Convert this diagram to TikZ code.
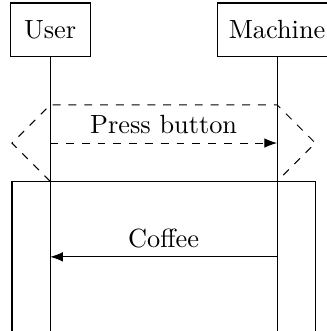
\documentclass[tikz,border=0pt]{standalone}
\usetikzlibrary{positioning, arrows.meta}

\tikzset{
  actor/.style={draw, minimum height=0.72cm, inner sep=3pt},
  msg/.style={-Latex},
  msglabel/.style={above, text depth=0pt}
}

\begin{document}
\begin{tikzpicture}
\useasboundingbox (0,0) rectangle (4.36,-4.42);

% actors
\node[actor, minimum width=1.07cm] (user) at (0.67,-0.40) {User};
\node[actor, minimum width=1.58cm] (machine) at (3.70,-0.40) {Machine};

% lifelines
\coordinate (user end) at (0.67,-4.6);
\coordinate (machine end) at (3.70,-4.6);
\draw (user) -- (user end);
\draw (machine) -- (machine end);

% dashed frame round the first message
\coordinate (opt tl) at (0.67,-1.40);
\coordinate (opt l) at (0.16,-1.91);
\coordinate (opt bl) at (0.67,-2.42);
\coordinate (opt br) at (3.70,-2.42);
\coordinate (opt r) at (4.21,-1.91);
\coordinate (opt tr) at (3.70,-1.40);
\draw[dashed] (opt bl) -- (opt l) -- (opt tl) -- (opt tr) -- (opt r) -- (opt br);

% solid frame round the second message
\coordinate (loop tl) at (0.16,-2.42);
\coordinate (loop br) at (4.21,-4.6);
\draw (loop tl) rectangle (loop br);

% messages
\coordinate (u1) at (0.67,-1.91);
\coordinate (m1) at (3.70,-1.91);
\draw[msg, dashed] (u1) -- (m1) node[msglabel, midway] {Press button};

\coordinate (u2) at (0.67,-3.43);
\coordinate (m2) at (3.70,-3.43);
\draw[msg] (m2) -- (u2) node[msglabel, midway] {Coffee};
\end{tikzpicture}
\end{document}
